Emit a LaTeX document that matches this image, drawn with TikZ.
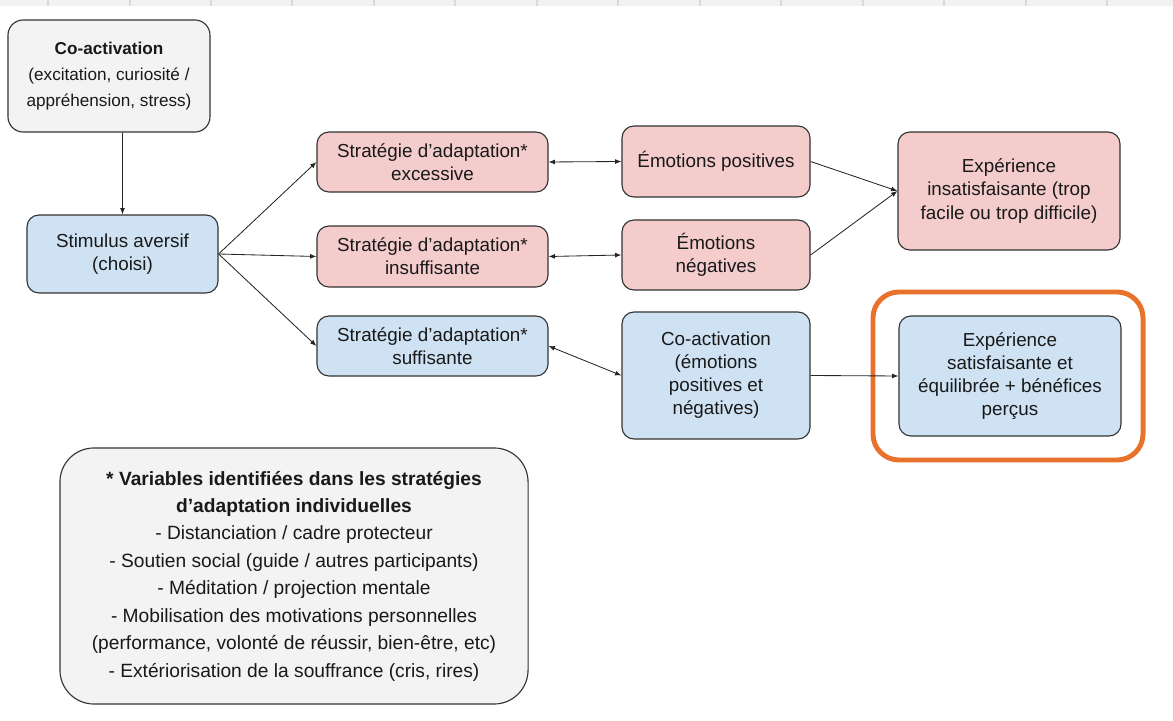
\documentclass[tikz,border=0pt]{standalone}
\usepackage{fontspec}
\setmainfont{Liberation Sans}
\usetikzlibrary{arrows.meta}
\definecolor{cellred}{RGB}{244,204,204}
\definecolor{cellblue}{RGB}{207,226,243}
\definecolor{cellgrey}{RGB}{243,243,243}
\definecolor{frameorange}{RGB}{232,113,44}
\begin{document}
\begin{tikzpicture}[x=0.025cm,y=-0.025cm,
box/.style={
% The shape:
rectangle,
draw=black!80,
line width=0.8pt,
rounded corners=0.3cm,
align=center,
inner sep=0pt,
text=black!90,
font=\fontsize{13.4}{16.4}\selectfont
},
redbox/.style={box,fill=cellred},
bluebox/.style={box,fill=cellblue},
greybox/.style={box,fill=cellgrey},
link/.style={-{Latex[length=4.5pt,width=3.5pt]},line width=0.6pt,draw=black!85},
duallink/.style={{Latex[length=4.5pt,width=3.5pt]}-{Latex[length=4.5pt,width=3.5pt]},line width=0.6pt,draw=black!85}
]
\useasboundingbox (0,0) rectangle (1173,721);
% Header strip:
\fill[black!5] (0,0) rectangle (1173,6);
\foreach \x in {48,130,211,292,374,455,537,618,700,781,863,944,1026,1107}
  \draw[black!15,line width=1pt] (\x,0) -- (\x,6);
% First column:
\node (coact) [greybox,minimum width=5.05cm,minimum height=2.8cm,rounded corners=0.38cm,font=\fontsize{12.2}{18.6}\selectfont] at (109,76) {\textbf{Co-activation}\\(excitation, curiosité /\\appréhension, stress)};
\node (stim) [bluebox,minimum width=4.775cm,minimum height=1.95cm] at (122.5,254) {Stimulus aversif\\(choisi)};
% Strategies:
\node (excess) [redbox,minimum width=5.775cm,minimum height=1.5cm] at (432.5,162) {Stratégie d’adaptation*\\excessive};
\node (lack) [redbox,minimum width=5.775cm,minimum height=1.525cm] at (432.5,256.5) {Stratégie d’adaptation*\\insuffisante};
\node (enough) [bluebox,minimum width=5.775cm,minimum height=1.5cm] at (432.5,346) {Stratégie d’adaptation*\\suffisante};
% Emotions:
\node (pos) [redbox,minimum width=4.7cm,minimum height=1.775cm] at (716,161.5) {Émotions positives};
\node (neg) [redbox,minimum width=4.7cm,minimum height=1.75cm] at (716,255) {Émotions\\négatives};
\node (mixed) [bluebox,minimum width=4.7cm,minimum height=3.175cm] at (716,375.5) {Co-activation\\(émotions\\positives et\\négatives)};
% Outcomes:
\node (unsat) [redbox,minimum width=5.55cm,minimum height=2.95cm] at (1009,191) {Expérience\\insatisfaisante (trop\\facile ou trop difficile)};
\node (sat) [bluebox,minimum width=5.55cm,minimum height=3cm] at (1010,376) {Expérience\\satisfaisante et\\équilibrée + bénéfices\\perçus};
\node (frame) [draw=frameorange,line width=3.5pt,rounded corners=0.65cm,minimum width=6.75cm,minimum height=4.2cm] at (1008,376) {};
% Legend:
\node (vars) [greybox,minimum width=11.7cm,minimum height=6.4cm,rounded corners=0.85cm,font=\fontsize{13.65}{19.5}\selectfont] at (294,576) {\textbf{* Variables identifiées dans les stratégies}\\\textbf{d’adaptation individuelles}\\- Distanciation / cadre protecteur\\- Soutien social (guide / autres participants)\\- Méditation / projection mentale\\- Mobilisation des motivations personnelles\\(performance, volonté de réussir, bien-être, etc)\\- Extériorisation de la souffrance (cris, rires)};
\draw[link] (stim.north |- coact.south) -- (stim.north);
\draw[link] (stim.east) -- (excess.west);
\draw[link] (stim.east) -- (lack.west);
\draw[link] (stim.east) -- (enough.west);
\draw[duallink] (excess.east) -- (pos.west);
\draw[duallink] (lack.east) -- (neg.west);
\draw[duallink] (enough.east) -- (mixed.west);
\draw[link] (pos.east) -- (unsat.west);
\draw[link] (neg.east) -- (unsat.west);
\draw[link] (mixed.east) -- (sat.west);
\end{tikzpicture}
\end{document}
